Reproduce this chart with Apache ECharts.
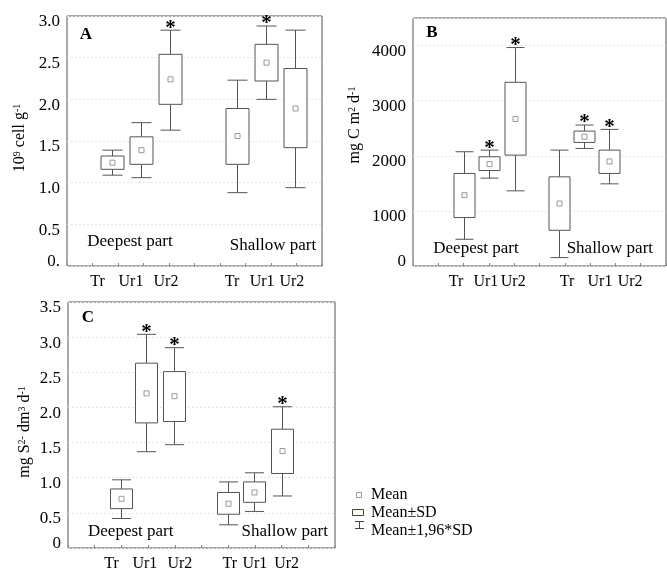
<!DOCTYPE html>
<html>
<head>
<meta charset="UTF-8">
<title>Box plots A B C</title>
<script src="https://cdn.jsdelivr.net/npm/echarts@6/dist/echarts.min.js"></script>
<style>
  html, body { margin: 0; padding: 0; background: #fff; }
  #main { width: 667px; height: 571px; }
</style>
</head>
<body>
<div id="main"></div>
<script type="text/javascript">
// groups along x (same in every panel)
var groups = ['Tr', 'Ur1', 'Ur2', 'Tr', 'Ur1', 'Ur2'];
var parts = ['Deepest part', 'Shallow part'];

// A: 10^9 cell g-1
var meanA = [1.24, 1.39, 2.24, 1.56, 2.44, 1.89];
var sdLoA = [1.16, 1.22, 1.94, 1.22, 2.22, 1.42];
var sdHiA = [1.32, 1.55, 2.54, 1.89, 2.66, 2.37];
var ciLoA = [1.09, 1.06, 1.63, 0.88, 2.00, 0.94];
var ciHiA = [1.39, 1.72, 2.83, 2.23, 2.88, 2.83];
var sigA = [0, 0, 1, 0, 1, 0];

// B: mg C m2 d-1
var meanB = [1285, 1848, 2667, 1133, 2345, 1897];
var sdLoB = [879, 1733, 2012, 648, 2242, 1679];
var sdHiB = [1679, 1982, 3333, 1618, 2448, 2103];
var ciLoB = [485, 1594, 1364, 152, 2133, 1491];
var ciHiB = [2073, 2103, 3964, 2103, 2558, 2479];
var sigB = [0, 1, 1, 0, 1, 1];

// C: mg S2- dm3 d-1
var meanC = [0.70, 2.20, 2.16, 0.63, 0.79, 1.38];
var sdLoC = [0.56, 1.78, 1.80, 0.48, 0.65, 1.06];
var sdHiC = [0.84, 2.63, 2.51, 0.79, 0.94, 1.69];
var ciLoC = [0.42, 1.37, 1.47, 0.33, 0.52, 0.74];
var ciHiC = [0.97, 3.04, 2.85, 0.94, 1.07, 2.01];
var sigC = [0, 1, 1, 0, 0, 1];

var legendLabels = ['Mean', 'Mean\u00b1SD', 'Mean\u00b11,96*SD'];

var SERIF = '"Liberation Serif", "Times New Roman", serif';
var LINE = '#555';

var myChart = echarts.init(document.getElementById('main'));

// x layout of each panel, in axis units (0..10)
var panels = [
  { grid: { left: 67, top: 16, width: 255, height: 250 },
    ymax: 3, yint: 0.5, zero: '0.', dec: 1, boxW: 23,
    boxX: [1.75, 2.9, 4.04, 6.67, 7.8, 8.95],
    tickX: [1.2, 2.51, 3.88, 6.47, 7.65, 8.82],
    partX: [2.47, 8.08], partY: [0.29, 0.25],
    mean: meanA, sdLo: sdLoA, sdHi: sdHiA, ciLo: ciLoA, ciHi: ciHiA, sig: sigA },
  { grid: { left: 413, top: 18, width: 253, height: 248 },
    ymax: 4500, yint: 1000, zero: '0', dec: 0, boxW: 21, hideAbove: 4000,
    boxX: [2.01, 3.02, 4.04, 5.76, 6.77, 7.76],
    tickX: [1.7, 2.88, 3.96, 6.09, 7.39, 8.58],
    partX: [2.49, 7.78], partY: [310, 310],
    mean: meanB, sdLo: sdLoB, sdHi: sdHiB, ciLo: ciLoB, ciHi: ciHiB, sig: sigB },
  { grid: { left: 68, top: 302, width: 267, height: 246 },
    ymax: 3.5, yint: 0.5, zero: '0', dec: 1, boxW: 22,
    boxX: [2.0, 2.94, 3.96, 5.98, 6.97, 8.0],
    tickX: [1.63, 2.88, 4.19, 6.06, 7.0, 8.19],
    partX: [2.35, 8.12], partY: [0.24, 0.24],
    mean: meanC, sdLo: sdLoC, sdHi: sdHiC, ciLo: ciLoC, ciHi: ciHiC, sig: sigC }
];

var grids = [], xAxes = [], yAxes = [], series = [];

panels.forEach(function (p, gi) {
  grids.push(Object.assign({ show: true, borderColor: LINE, borderWidth: 1, containLabel: false }, p.grid));
  xAxes.push({
    type: 'value', gridIndex: gi, min: 0, max: 10, interval: 1,
    axisLine: { show: false }, axisLabel: { show: false }, splitLine: { show: false },
    axisTick: { show: true, inside: true, length: 3, lineStyle: { color: '#888' } }
  });
  yAxes.push({
    type: 'value', gridIndex: gi, min: 0, max: p.ymax, interval: p.yint,
    axisLine: { show: false }, axisTick: { show: false },
    splitLine: { show: true, lineStyle: { color: '#e4e4e4', type: [2, 2] } },
    axisLabel: {
      margin: 7,
      formatter: function (v) {
        if (v === 0) return '{z|' + p.zero + '}';
        if (p.hideAbove && v > p.hideAbove) return '';
        return '{n|' + v.toFixed(p.dec) + '}';
      },
      rich: {
        n: { fontFamily: SERIF, fontSize: 17, color: '#000', padding: [12, 0, 0, 0] },
        z: { fontFamily: SERIF, fontSize: 17, color: '#000', padding: [0, 0, 8, 0] }
      }
    }
  });

  // boxes: mean, mean±SD box, mean±1.96SD whiskers
  series.push({
    type: 'custom', xAxisIndex: gi, yAxisIndex: gi, silent: true, clip: false,
    data: p.boxX.map(function (x, i) {
      return [x, p.mean[i], p.sdLo[i], p.sdHi[i], p.ciLo[i], p.ciHi[i], p.sig[i]];
    }),
    encode: { x: 0, y: [1, 2, 3, 4, 5] },
    renderItem: function (params, api) {
      var x = api.value(0);
      var c = api.coord([x, api.value(1)]);
      var lo = api.coord([x, api.value(2)]);
      var hi = api.coord([x, api.value(3)]);
      var wlo = api.coord([x, api.value(4)]);
      var whi = api.coord([x, api.value(5)]);
      var cx = Math.round(c[0]) + 0.5;
      var bw = p.boxW, cw = Math.round(p.boxW * 0.85);
      var ls = { stroke: LINE, lineWidth: 1 };
      var ch = [
        { type: 'line', shape: { x1: cx, y1: whi[1], x2: cx, y2: hi[1] }, style: ls },
        { type: 'line', shape: { x1: cx, y1: lo[1], x2: cx, y2: wlo[1] }, style: ls },
        { type: 'line', shape: { x1: cx - cw / 2, y1: whi[1], x2: cx + cw / 2, y2: whi[1] }, style: ls },
        { type: 'line', shape: { x1: cx - cw / 2, y1: wlo[1], x2: cx + cw / 2, y2: wlo[1] }, style: ls },
        { type: 'rect', shape: { x: cx - bw / 2, y: hi[1], width: bw, height: lo[1] - hi[1] },
          style: { fill: '#fff', stroke: LINE, lineWidth: 1 } },
        { type: 'rect', shape: { x: cx - 2.5, y: c[1] - 2.5, width: 5, height: 5 },
          style: { fill: '#fff', stroke: '#999', lineWidth: 1 } }
      ];
      if (api.value(6)) {
        ch.push({ type: 'text', x: cx, y: whi[1] - 2,
          style: { text: '*', fontFamily: SERIF, fontSize: 21, fontWeight: 'bold', fill: '#000',
                   align: 'center', verticalAlign: 'middle' } });
      }
      return { type: 'group', children: ch };
    }
  });

  // group tick labels under the axis
  series.push({
    type: 'custom', xAxisIndex: gi, yAxisIndex: gi, silent: true, clip: false,
    data: p.tickX.map(function (x) { return [x, 0]; }),
    renderItem: function (params, api) {
      var pt = api.coord([api.value(0), api.value(1)]);
      return { type: 'text', x: pt[0], y: pt[1] + 16,
        style: { text: groups[params.dataIndex], fontFamily: SERIF, fontSize: 16, fill: '#000',
                 align: 'center', verticalAlign: 'middle' } };
    }
  });

  // part labels inside the plot
  series.push({
    type: 'custom', xAxisIndex: gi, yAxisIndex: gi, silent: true, clip: false,
    data: p.partX.map(function (x, i) { return [x, p.partY[i]]; }),
    renderItem: function (params, api) {
      var pt = api.coord([api.value(0), api.value(1)]);
      return { type: 'text', x: pt[0], y: pt[1],
        style: { text: parts[params.dataIndex], fontFamily: SERIF, fontSize: 17, fill: '#000',
                 align: 'center', verticalAlign: 'middle' } };
    }
  });
});

var titleRich = {
  a: { fontFamily: SERIF, fontSize: 16, fill: '#000', color: '#000' },
  s: { fontFamily: SERIF, fontSize: 10, fill: '#000', color: '#000', verticalAlign: 'top' }
};
function vTitle(x, y, text) {
  return { type: 'text', x: x, y: y, rotation: Math.PI / 2,
    style: { text: text, rich: titleRich, align: 'center', verticalAlign: 'middle', fill: '#000' } };
}
function letter(x, y, t) {
  return { type: 'text', x: x, y: y,
    style: { text: t, fontFamily: SERIF, fontSize: 17, fontWeight: 'bold', fill: '#000',
             align: 'center', verticalAlign: 'middle' } };
}

var graphics = [
  vTitle(20, 138, '{a|10}{s|9}{a| cell g}{s|-1}'),
  vTitle(355, 125, '{a|mg C m}{s|2}{a| d}{s|-1}'),
  vTitle(25, 432, '{a|mg S}{s|2-}{a| dm}{s|3}{a| d}{s|-1}'),
  letter(86, 35, 'A'),
  letter(432, 33, 'B'),
  letter(88, 318, 'C'),
  // legend
  { type: 'rect', shape: { x: 356.5, y: 492.5, width: 5, height: 5 }, style: { fill: '#fff', stroke: '#999' } },
  { type: 'rect', shape: { x: 352.5, y: 509.5, width: 11, height: 6 }, style: { fill: '#fffdf0', stroke: '#444' } },
  { type: 'line', shape: { x1: 359.5, y1: 521, x2: 359.5, y2: 529 }, style: { stroke: '#444' } },
  { type: 'line', shape: { x1: 355, y1: 521.5, x2: 364, y2: 521.5 }, style: { stroke: '#444' } },
  { type: 'line', shape: { x1: 355, y1: 528.5, x2: 364, y2: 528.5 }, style: { stroke: '#444' } }
];
legendLabels.forEach(function (t, i) {
  graphics.push({ type: 'text', x: 371, y: 495 + i * 18,
    style: { text: t, fontFamily: SERIF, fontSize: 16, fill: '#000', align: 'left', verticalAlign: 'middle' } });
});

myChart.setOption({
  animation: false,
  backgroundColor: '#fff',
  grid: grids,
  xAxis: xAxes,
  yAxis: yAxes,
  series: series,
  graphic: graphics
});
</script>
</body>
</html>
